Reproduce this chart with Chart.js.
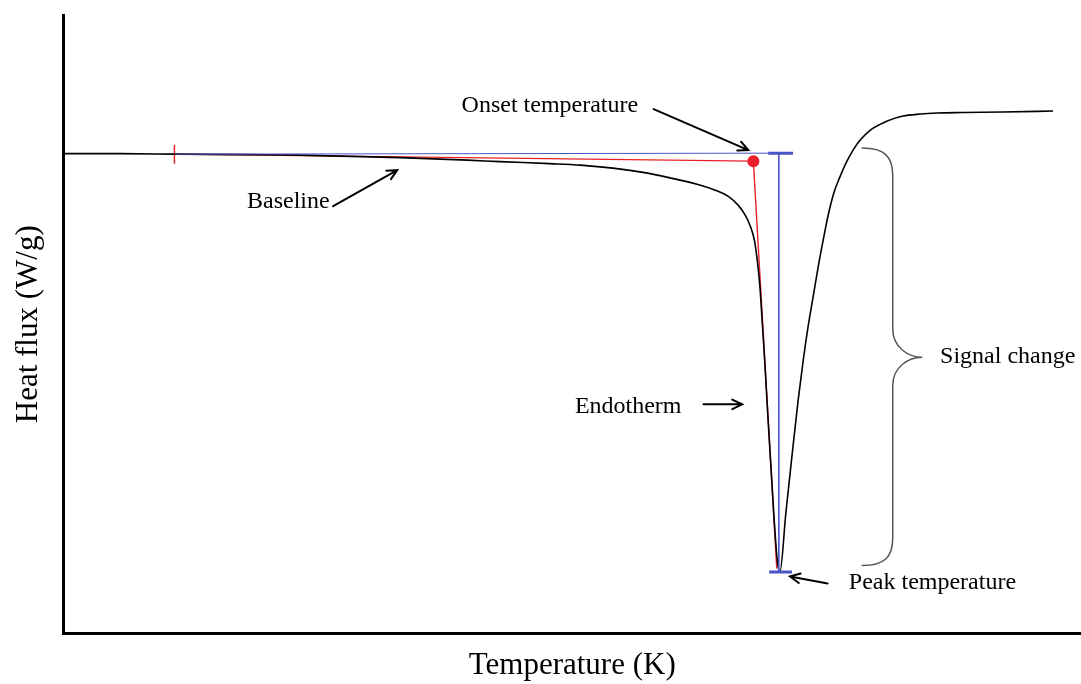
<!DOCTYPE html>
<html>
<head>
<meta charset="utf-8">
<title>DSC endotherm</title>
<script src="https://cdn.jsdelivr.net/npm/chart.js@4.4.1/dist/chart.umd.min.js"></script>
<style>
  html, body { margin: 0; padding: 0; background: #fff; }
  canvas { display: block; }
</style>
</head>
<body>
<canvas id="dscChart" width="1081" height="684"></canvas>
<script>
  // Measured DSC trace
  const tempK = [300.0, 305.6, 311.0, 318.4, 323.3, 333.1, 339.7, 342.9, 347.8, 350.8,
    354.0, 357.4, 360.6, 362.6, 364.05, 365.3, 366.3, 367.0, 367.5, 367.9,
    368.12, 368.29, 368.47, 368.66, 368.91, 369.25, 369.55, 369.85, 370.15, 370.4,
    371.0, 371.6, 372.2, 372.7, 373.2, 373.7, 374.2, 374.7, 375.15, 375.7,
    376.3, 376.9, 377.6, 378.3, 379.3, 380.3, 380.9, 382.5, 384.2, 385.85,
    388.4, 392.3, 397.25];
  const heatFlux = [0.010, 0.010, 0.005, 0.000, -0.005, -0.030, -0.055, -0.070, -0.090, -0.105,
    -0.135, -0.185, -0.255, -0.306, -0.356, -0.416, -0.506, -0.607, -0.717, -0.857,
    -1.008, -1.158, -1.359, -1.660, -2.061, -2.663, -3.165, -3.666, -4.068, -4.188,
    -3.586, -3.014, -2.463, -2.061, -1.710, -1.409, -1.108, -0.837, -0.607, -0.386,
    -0.225, -0.085, 0.046, 0.146, 0.246, 0.306, 0.336, 0.387, 0.407, 0.417,
    0.422, 0.427, 0.437];

  // Extrapolated baseline and leading-edge tangent
  const baselineT = [311.0, 367.7];
  const baselineQ = [0.005, -0.065];
  const tangentT = [367.8, 370.1];
  const tangentQ = [-0.065, -4.148];
  const startTickT = [310.9, 310.9];
  const startTickQ = [0.096, -0.090];

  // Onset point
  const onsetT = [367.8];
  const onsetQ = [-0.065];

  // Signal height markers
  const refLineT = [311.0, 369.25];
  const refLineQ = [0.005, 0.015];
  const topCapT = [369.25, 371.7];
  const topCapQ = [0.015, 0.015];
  const heightT = [370.3, 370.3];
  const heightQ = [0.015, -4.188];
  const peakCapT = [369.35, 371.6];
  const peakCapQ = [-4.183, -4.183];

  // Annotation labels: text, x, baseline y
  const labelText = ['Onset temperature', 'Baseline', 'Endotherm', 'Signal change', 'Peak temperature'];
  const labelT = [347.8, 322.1, 355.5, 392.8, 385.4];
  const labelQ = [0.427, -0.536, -2.593, -2.091, -4.349];

  // Arrows: tail -> head
  const arrowFromT = [358.0, 326.5, 362.9, 375.1];
  const arrowFromQ = [0.457, -0.516, -2.503, -4.298];
  const arrowToT = [367.3, 332.8, 366.7, 371.4];
  const arrowToQ = [0.046, -0.155, -2.503, -4.228];

  // Brace spanning the signal change
  const braceTopQ = 0.066;
  const braceBottomQ = -4.118;
  const braceTipQ = -2.031;
  const braceEndT = 378.5;
  const braceSpineT = 381.5;
  const braceTipT = 384.4;

  const RED = '#e8202a';
  const BLUE = '#4a55c8';

  function pts(xs, ys) {
    return xs.map((x, i) => ({ x: x, y: ys[i] }));
  }

  function seg(xs, ys, color, width) {
    return {
      data: pts(xs, ys),
      showLine: true,
      borderColor: color,
      borderWidth: width,
      pointRadius: 0,
      tension: 0
    };
  }

  const annotations = {
    id: 'annotations',
    afterDatasetsDraw(chart) {
      const ctx = chart.ctx;
      const xs = chart.scales.x;
      const ys = chart.scales.y;
      const px = v => xs.getPixelForValue(v);
      const py = v => ys.getPixelForValue(v);

      ctx.save();

      // arrows
      ctx.strokeStyle = '#000';
      ctx.lineWidth = 2;
      ctx.lineCap = 'round';
      for (let i = 0; i < arrowFromT.length; i++) {
        const x1 = px(arrowFromT[i]), y1 = py(arrowFromQ[i]);
        const x2 = px(arrowToT[i]), y2 = py(arrowToQ[i]);
        const a = Math.atan2(y2 - y1, x2 - x1);
        const len = 11, spread = 0.45;
        ctx.beginPath();
        ctx.moveTo(x1, y1);
        ctx.lineTo(x2, y2);
        ctx.moveTo(x2 - len * Math.cos(a - spread), y2 - len * Math.sin(a - spread));
        ctx.lineTo(x2, y2);
        ctx.lineTo(x2 - len * Math.cos(a + spread), y2 - len * Math.sin(a + spread));
        ctx.stroke();
      }

      // curly brace
      const bx0 = px(braceEndT), bx1 = px(braceSpineT), bx2 = px(braceTipT);
      const by0 = py(braceTopQ), by1 = py(braceTipQ), by2 = py(braceBottomQ);
      const r = 28;
      ctx.strokeStyle = '#555';
      ctx.lineWidth = 1.5;
      ctx.beginPath();
      ctx.moveTo(bx0, by0);
      ctx.bezierCurveTo(bx0 + 22, by0, bx1, by0 + 8, bx1, by0 + r);
      ctx.lineTo(bx1, by1 - r);
      ctx.bezierCurveTo(bx1, by1 - 10, bx2 - 14, by1, bx2, by1);
      ctx.bezierCurveTo(bx2 - 14, by1, bx1, by1 + 10, bx1, by1 + r);
      ctx.lineTo(bx1, by2 - r);
      ctx.bezierCurveTo(bx1, by2 - 8, bx0 + 22, by2, bx0, by2);
      ctx.stroke();

      // labels
      ctx.fillStyle = '#000';
      ctx.font = '24px "Liberation Serif", "Times New Roman", serif';
      ctx.textAlign = 'center';
      ctx.textBaseline = 'alphabetic';
      labelText.forEach((t, i) => ctx.fillText(t, px(labelT[i]), py(labelQ[i])));

      ctx.restore();
    }
  };

  const titleFont = { family: '"Liberation Serif", "Times New Roman", serif', size: 31 };

  const dscChart = new Chart(document.getElementById('dscChart'), {
    type: 'scatter',
    data: {
      datasets: [
        seg(refLineT, refLineQ, BLUE, 1),
        seg(heightT, heightQ, BLUE, 1),
        seg(topCapT, topCapQ, BLUE, 3),
        seg(peakCapT, peakCapQ, BLUE, 3),
        {
          data: pts(tempK, heatFlux),
          showLine: true,
          borderColor: '#000',
          borderWidth: 1.6,
          pointRadius: 0,
          cubicInterpolationMode: 'monotone'
        },
        seg(baselineT, baselineQ, RED, 1.2),
        seg(tangentT, tangentQ, RED, 1.4),
        seg(startTickT, startTickQ, RED, 1.5),
        {
          data: pts(onsetT, onsetQ),
          pointRadius: 6,
          pointBackgroundColor: RED,
          pointBorderColor: RED,
          pointBorderWidth: 0
        }
      ]
    },
    options: {
      responsive: false,
      animation: false,
      layout: { autoPadding: false, padding: { top: 15, right: 0, left: 0, bottom: 0 } },
      plugins: {
        legend: { display: false },
        tooltip: { enabled: false }
      },
      scales: {
        x: {
          type: 'linear',
          min: 300,
          max: 400,
          grid: { display: false, drawTicks: false },
          ticks: { display: false },
          border: { display: true, color: '#000', width: 3 },
          title: {
            display: true,
            text: 'Temperature (K)',
            color: '#000',
            font: titleFont,
            padding: { top: 13.3, bottom: 0 }
          }
        },
        y: {
          min: -4.8,
          max: 1.4,
          grid: { display: false, drawTicks: false },
          ticks: { display: false },
          border: { display: true, color: '#000', width: 3 },
          title: {
            display: true,
            text: 'Heat flux (W/g)',
            color: '#000',
            font: titleFont,
            padding: { top: 10.4, bottom: 15.9 }
          }
        }
      }
    },
    plugins: [annotations]
  });
</script>
</body>
</html>
